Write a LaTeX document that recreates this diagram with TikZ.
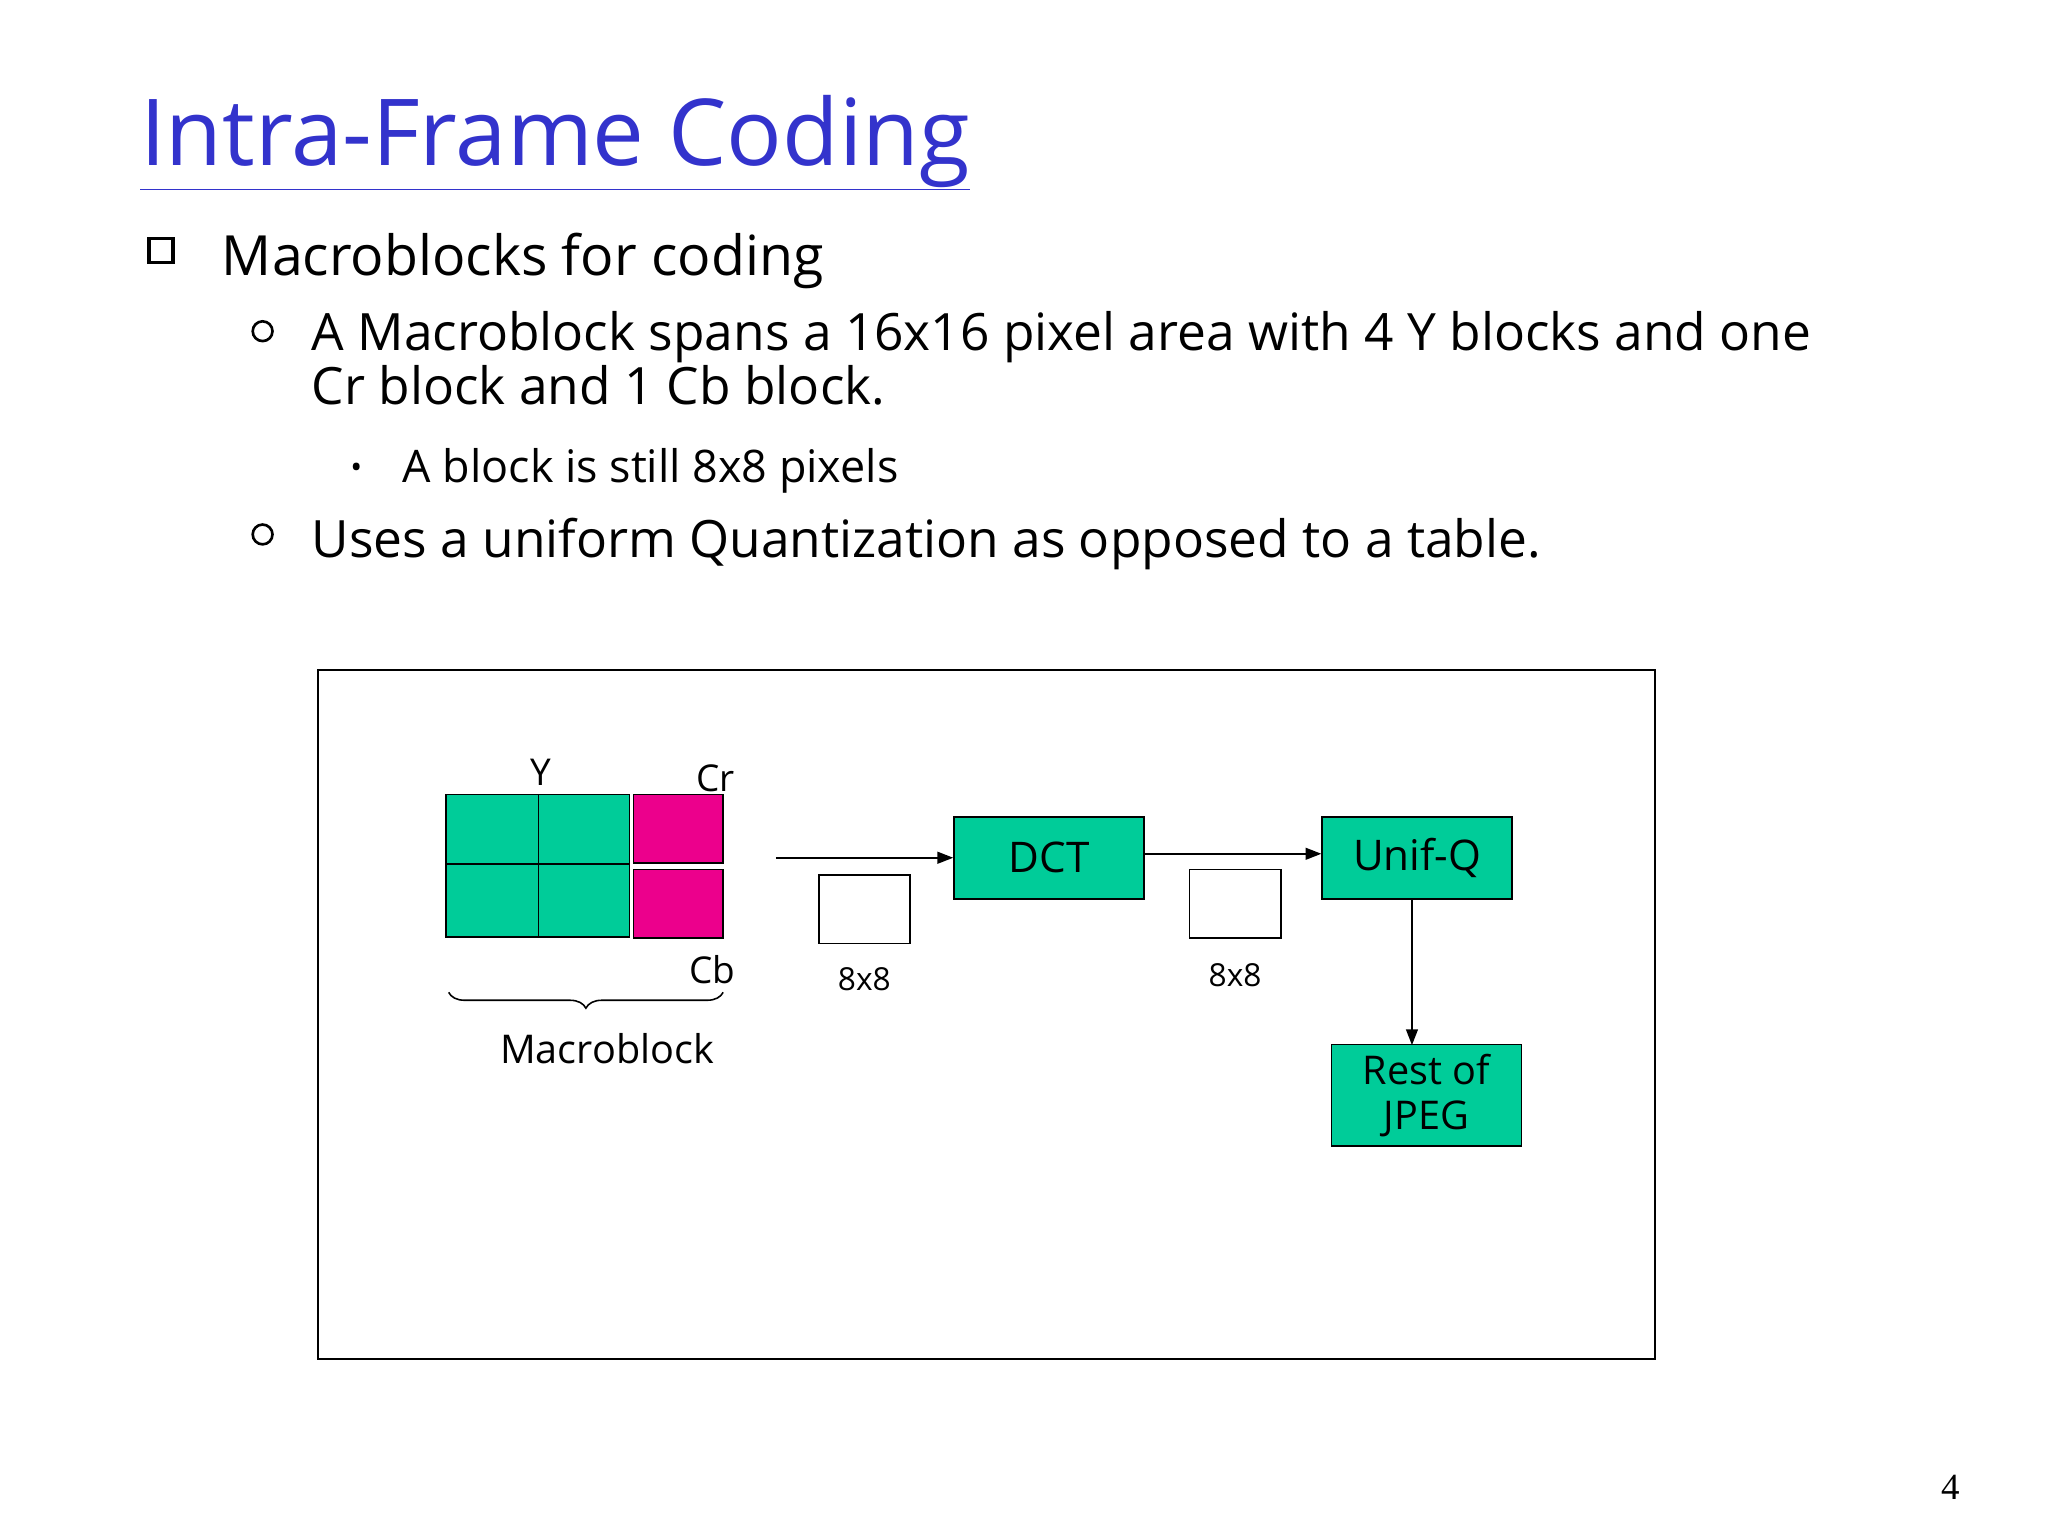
\documentclass[tikz,border=0pt]{standalone}
\usepackage{fontspec}
\setmainfont{Open Sans}
\newfontfamily\numfont{Liberation Serif}
\usetikzlibrary{decorations.pathreplacing,arrows.meta}
\definecolor{teal1}{HTML}{00CC99}
\definecolor{titleblue}{HTML}{3333CC}
\tikzset{
 fs/.style={font=\fontsize{#1}{#1}\selectfont},
 blk/.style={draw,line width=1.3pt,fill=teal1,minimum width=144pt,minimum height=62pt,inner sep=0pt,fs=32},
 emptyblk/.style={draw,line width=1.3pt,minimum width=69pt,minimum height=52pt,inner sep=0pt},
 arr/.style={line width=1.3pt,-{Triangle[length=12pt,width=9pt]}},
 txt/.style={anchor=west,inner sep=0pt},
}
\begin{document}
\begin{tikzpicture}[x=1pt,y=-1pt]
\useasboundingbox (0,0) rectangle (1552,1164);
\node[txt,fs=70,text=titleblue] (title) at (106,108) {\underline{Intra-Frame Coding}};
\node[draw,line width=2.5pt,minimum size=18pt,inner sep=0pt] (sq) at (122,190) {};
\node[txt,fs=42] (b1) at (168,198) {Macroblocks for coding};
\node[draw,circle,line width=2pt,minimum size=15pt,inner sep=0pt] (c1) at (199,251) {};
\node[txt,fs=39,align=left,anchor=north west] (b2) at (236,236) {A Macroblock spans a 16x16 pixel area with 4 Y blocks and one\\[2pt]Cr block and 1 Cb block.};
\node[fs=24] (dot) at (270,357) {•};
\node[txt,fs=34] (b3) at (305,357) {A block is still 8x8 pixels};
\node[draw,circle,line width=2pt,minimum size=15pt,inner sep=0pt] (c2) at (199,405) {};
\node[txt,fs=39] (b4) at (236,412) {Uses a uniform Quantization as opposed to a table.};
\draw[line width=1.5pt] (241,508) rectangle (1254,1030);
% macroblock
\draw[line width=1.3pt,fill=teal1] (338,602) rectangle (477,710);
\draw[line width=1.3pt] (408,602) -- (408,710) (338,655) -- (477,655);
\draw[line width=1.3pt,fill=magenta] (480,602) rectangle (548,654);
\draw[line width=1.3pt,fill=magenta] (480,659) rectangle (548,711);
\node[fs=28] (ly) at (410,585) {Y};
\node[fs=28] (lcr) at (542,590) {Cr};
\node[fs=28] (lcb) at (540,735) {Cb};
\draw[line width=1.2pt,decorate,decoration={brace,mirror,amplitude=12pt}] (340,752) -- (548,752);
\node[fs=30] (mb) at (460,795) {Macroblock};
\coordinate (s) at (588,650);
\node[blk] (dct) at (795,650) {DCT};
\node[blk] (uq) at (1074,650) {Unif-Q};
\node[blk,minimum height=77pt,align=center,font=\fontsize{30}{34}\selectfont] (rest) at (1081,830) {Rest of\\JPEG};
\node[emptyblk] (e1) at (655,689) {};
\node[emptyblk] (e2) at (936,685) {};
\node[fs=24] (l1) at (655,742) {8x8};
\node[fs=24] (l2) at (936,739) {8x8};
\draw[arr] (s) -- (dct.west);
\draw[arr] (dct.east |- 0,647) -- (uq.west |- 0,647);
\draw[arr] (1070,681) -- (1070,792);
\node[fs=28,font=\numfont\fontsize{28}{28}\selectfont] (pg) at (1478,1127) {4};
\end{tikzpicture}
\end{document}
